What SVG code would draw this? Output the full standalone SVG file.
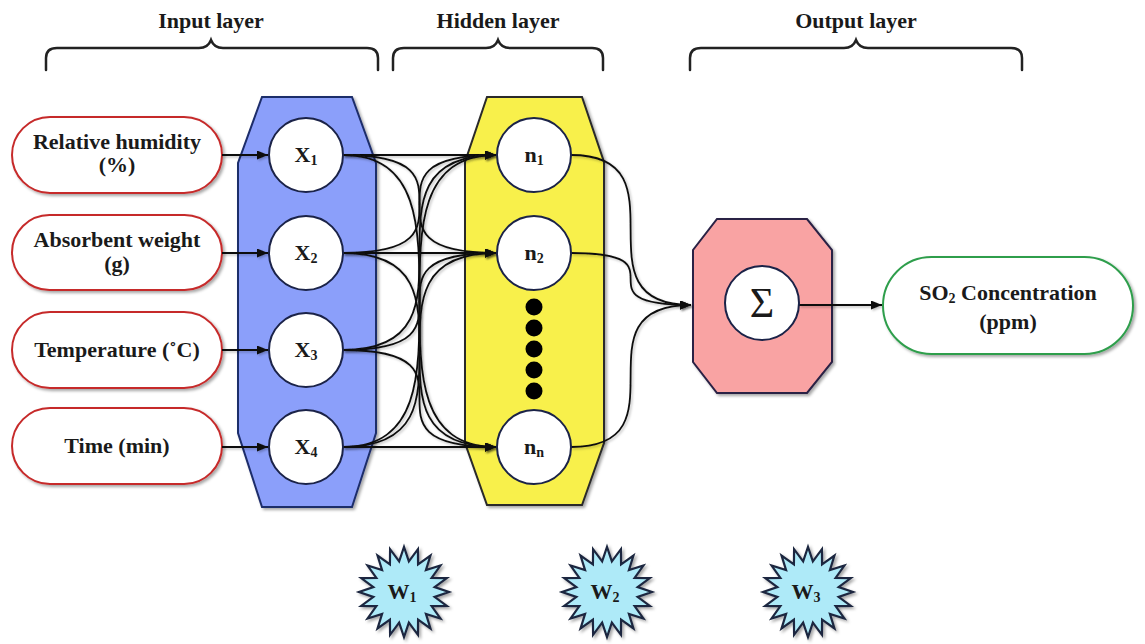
<svg xmlns="http://www.w3.org/2000/svg" width="1145" height="644" viewBox="0 0 1145 644">
<defs>
<filter id="sh" x="-20%" y="-20%" width="140%" height="140%">
<feDropShadow dx="2" dy="2" stdDeviation="1.5" flood-color="#000" flood-opacity="0.35"/>
</filter>
<filter id="lsh" filterUnits="userSpaceOnUse" x="0" y="0" width="1145" height="644">
<feDropShadow dx="1.5" dy="1.5" stdDeviation="1" flood-color="#000" flood-opacity="0.25"/>
</filter>
<marker id="ah" markerUnits="userSpaceOnUse" markerWidth="12" markerHeight="10" refX="11" refY="4.5" orient="auto">
<path d="M0,0 L11,4.5 L0,9 Z" fill="#111"/>
</marker>
<polygon id="starShape" points="45,0 30.62,4.85 42.80,13.91 27.62,14.07 36.41,26.45 21.92,21.92 26.45,36.41 14.07,27.62 13.91,42.80 4.85,30.62 0,45 -4.85,30.62 -13.91,42.80 -14.07,27.62 -26.45,36.41 -21.92,21.92 -36.41,26.45 -27.62,14.07 -42.80,13.91 -30.62,4.85 -45,0 -30.62,-4.85 -42.80,-13.91 -27.62,-14.07 -36.41,-26.45 -21.92,-21.92 -26.45,-36.41 -14.07,-27.62 -13.91,-42.80 -4.85,-30.62 0,-45 4.85,-30.62 13.91,-42.80 14.07,-27.62 26.45,-36.41 21.92,-21.92 36.41,-26.45 27.62,-14.07 42.80,-13.91 30.62,-4.85"/>
</defs>
<style>
text{font-family:"Liberation Serif","Times New Roman",serif;font-weight:bold;fill:#1a1a1a;}
.lbl{font-size:22px;text-anchor:middle;}
.sub{font-size:14px;}
.brace{fill:none;stroke:#222;stroke-width:2.5;stroke-linecap:round;}
.pillIn{fill:#fff;stroke:#c62a2a;stroke-width:2;filter:url(#sh);}
.pillOut{fill:#fff;stroke:#2e9e4c;stroke-width:2;filter:url(#sh);}
.neuron{fill:#fff;stroke:#1b2348;stroke-width:2;}
.conn{fill:none;stroke:#111;stroke-width:1.8;marker-end:url(#ah);filter:url(#lsh);}
.dot{fill:#000;}
.starS{fill:#aeeaf8;stroke:#1d2840;stroke-width:2.2;filter:url(#sh);}
</style>

<g id="headers">
<text class="lbl" x="211" y="28">Input layer</text>
<path class="brace" d="M46,70 L46,58 Q46,48 57,48 L199,48 Q208,48 211,40 Q214,48 223,48 L367,48 Q378,48 378,58 L378,70"/>
<text class="lbl" x="498" y="28">Hidden layer</text>
<path class="brace" d="M393,70 L393,58 Q393,48 404,48 L486,48 Q495,48 498,40 Q501,48 510,48 L592,48 Q603,48 603,58 L603,70"/>
<text class="lbl" x="856" y="28">Output layer</text>
<path class="brace" d="M690,70 L690,58 Q690,48 701,48 L844,48 Q853,48 856,40 Q859,48 868,48 L1011,48 Q1022,48 1022,58 L1022,70"/>
</g>

<g id="panel-input">
<polygon points="262,97 352,97 376,163 376,433 352,507 262,507 238,433 238,163" fill="#8b9ffa" stroke="#1f2d6b" stroke-width="2" filter="url(#sh)"/>
</g>
<g id="panel-hidden">
<polygon points="487,97 582,97 604,162 604,443 582,505 487,505 465,443 465,162" fill="#f8f04c" stroke="#2a2a2a" stroke-width="2" filter="url(#sh)"/>
</g>
<g id="panel-output">
<polygon points="717,219 807,219 832,250 832,362 807,393 717,393 693,362 693,250" fill="#f9a3a3" stroke="#2a2044" stroke-width="2" filter="url(#sh)"/>
</g>

<g id="in-rh">
<rect class="pillIn" x="12" y="117" width="210" height="76" rx="38"/>
<text class="lbl" x="117" y="149">Relative humidity</text>
<text class="lbl" x="117" y="172">(%)</text>
</g>
<g id="in-aw">
<rect class="pillIn" x="12" y="215" width="210" height="75" rx="37.5"/>
<text class="lbl" x="117" y="247">Absorbent weight</text>
<text class="lbl" x="117" y="271">(g)</text>
</g>
<g id="in-temp">
<rect class="pillIn" x="12" y="312" width="210" height="76" rx="38"/>
<text class="lbl" x="117" y="357">Temperature (˚C)</text>
</g>
<g id="in-time">
<rect class="pillIn" x="12" y="408" width="210" height="76" rx="38"/>
<text class="lbl" x="117" y="453">Time (min)</text>
</g>

<g id="connectors">
<path class="conn" d="M222,155 L268,155"/>
<path class="conn" d="M222,253 L268,253"/>
<path class="conn" d="M222,350 L268,350"/>
<path class="conn" d="M222,447 L268,447"/>

<path class="conn" d="M343,155 L496,155"/>
<path class="conn" d="M343,155 C496,155 343,253 496,253"/>
<path class="conn" d="M343,155 C496,155 343,447 496,447"/>
<path class="conn" d="M343,253 C496,253 343,155 496,155"/>
<path class="conn" d="M343,253 L496,253"/>
<path class="conn" d="M343,253 C496,253 343,447 496,447"/>
<path class="conn" d="M343,350 C496,350 343,155 496,155"/>
<path class="conn" d="M343,350 C496,350 343,253 496,253"/>
<path class="conn" d="M343,350 C496,350 343,447 496,447"/>
<path class="conn" d="M343,447 C496,447 343,155 496,155"/>
<path class="conn" d="M343,447 C496,447 343,253 496,253"/>
<path class="conn" d="M343,447 L496,447"/>

<path class="conn" d="M571,155 C690,155 571,305 691,305"/>
<path class="conn" d="M571,253 C690,253 571,305 691,305"/>
<path class="conn" d="M571,447 C690,447 571,305 691,305"/>

<path class="conn" d="M799,305 L882,305"/>
</g>

<g id="x1"><circle class="neuron" cx="306" cy="155" r="37"/><text class="lbl" x="306" y="162">X<tspan class="sub" dy="3">1</tspan></text></g>
<g id="x2"><circle class="neuron" cx="306" cy="253" r="37"/><text class="lbl" x="306" y="260">X<tspan class="sub" dy="3">2</tspan></text></g>
<g id="x3"><circle class="neuron" cx="306" cy="350" r="37"/><text class="lbl" x="306" y="357">X<tspan class="sub" dy="3">3</tspan></text></g>
<g id="x4"><circle class="neuron" cx="306" cy="447" r="37"/><text class="lbl" x="306" y="454">X<tspan class="sub" dy="3">4</tspan></text></g>

<g id="n1"><circle class="neuron" cx="534" cy="155" r="37"/><text class="lbl" x="534" y="162">n<tspan class="sub" dy="3">1</tspan></text></g>
<g id="n2"><circle class="neuron" cx="534" cy="253" r="37"/><text class="lbl" x="534" y="260">n<tspan class="sub" dy="3">2</tspan></text></g>
<g id="dots">
<circle class="dot" cx="534" cy="307" r="8.5"/>
<circle class="dot" cx="534" cy="328" r="8.5"/>
<circle class="dot" cx="534" cy="349" r="8.5"/>
<circle class="dot" cx="534" cy="370" r="8.5"/>
<circle class="dot" cx="534" cy="391" r="8.5"/>
</g>
<g id="nn"><circle class="neuron" cx="534" cy="447" r="37"/><text class="lbl" x="534" y="454">n<tspan class="sub" dy="3">n</tspan></text></g>

<g id="sum"><circle class="neuron" cx="762" cy="303" r="37"/><text x="762" y="317" style="font-size:42px;font-weight:normal;text-anchor:middle;">Σ</text></g>

<g id="out-so2">
<rect class="pillOut" x="883" y="257" width="250" height="97" rx="48.5"/>
<text class="lbl" x="1008" y="300">SO<tspan class="sub" dy="3">2</tspan><tspan dy="-3"> Concentration</tspan></text>
<text class="lbl" x="1008" y="329">(ppm)</text>
</g>

<g id="w1">
<use href="#starShape" class="starS" x="404" y="592"/>
<text class="lbl" x="402" y="599">W<tspan class="sub" dy="3">1</tspan></text>
</g>
<g id="w2">
<use href="#starShape" class="starS" x="607" y="592"/>
<text class="lbl" x="605" y="599">W<tspan class="sub" dy="3">2</tspan></text>
</g>
<g id="w3">
<use href="#starShape" class="starS" x="808" y="592"/>
<text class="lbl" x="806" y="599">W<tspan class="sub" dy="3">3</tspan></text>
</g>
</svg>
